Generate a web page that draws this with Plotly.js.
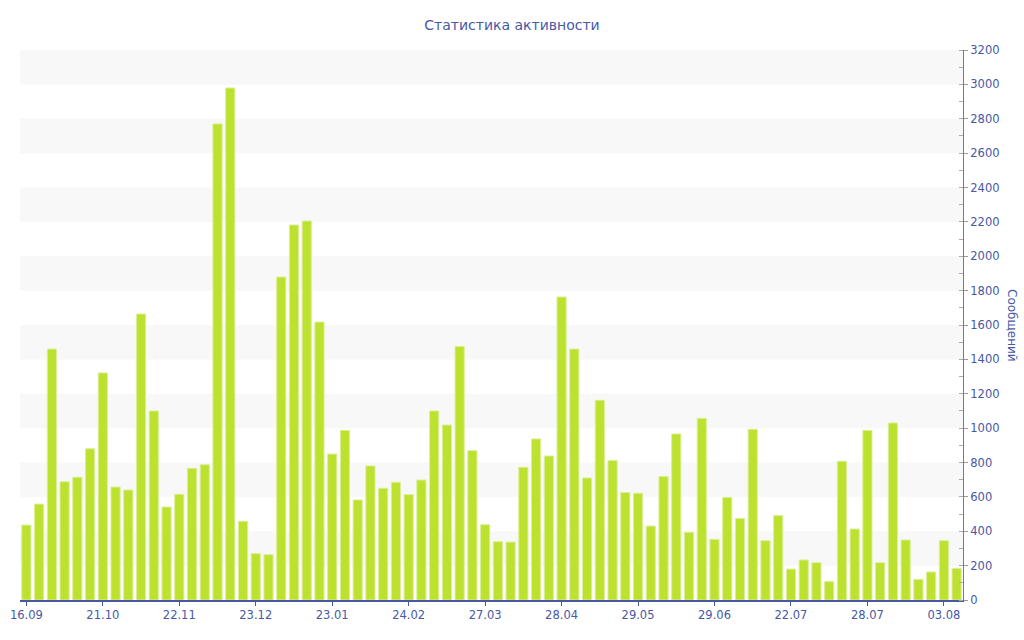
<!DOCTYPE html>
<html>
<head>
<meta charset="utf-8">
<script src="https://cdn.plot.ly/plotly-3.0.1.min.js"></script>
<style>html,body{margin:0;padding:0;background:#fff;}#chart{width:1024px;height:640px;}</style>
</head>
<body>
<div id="chart"></div>
<script>
// Weekly message counts (74 bars)
const messages = [
  436, 558, 1460, 688, 714, 880, 1321, 657, 640, 1664,
  1100, 541, 615, 766, 787, 2770, 2979, 458, 270, 264,
  1879, 2182, 2205, 1617, 849, 987, 582, 780, 650, 685,
  613, 698, 1100, 1018, 1475, 869, 438, 339, 337, 772,
  937, 838, 1763, 1460, 710, 1162, 811, 625, 621, 430,
  718, 966, 394, 1057, 353, 597, 475, 993, 345, 491,
  180, 233, 217, 107, 807, 413, 987, 217, 1030, 349,
  120, 163, 345, 184
];
const tickLabels = ["16.09","21.10","22.11","23.12","23.01","24.02","27.03","28.04","29.05","29.06","22.07","28.07","03.08"];
const tickEvery = 6;
const yMax = 3200;
const bandStep = 200;

const xIdx = messages.map((_, i) => i);
const tickVals = tickLabels.map((_, i) => i * tickEvery);

const blue = '#4758a6';
const font = 'DejaVu Sans, Verdana, sans-serif';

const shapes = [];
for (let y0 = bandStep; y0 < yMax; y0 += 2 * bandStep) {
  shapes.push({type:'rect', xref:'paper', x0:0, x1:1, yref:'y', y0:y0, y1:y0 + bandStep,
    fillcolor:'#f8f8f8', line:{width:0}, layer:'below'});
}

const trace = {
  type:'bar', x:xIdx, y:messages,
  marker:{color:'#bde12f', line:{color:'#dbef96', width:1}},
  hoverinfo:'y'
};

const layout = {
  width:1024, height:640,
  margin:{l:20, r:61, t:50, b:40},
  paper_bgcolor:'#fff', plot_bgcolor:'rgba(0,0,0,0)',
  font:{family:font, size:11.5, color:blue},
  title:{text:'Статистика активности', font:{family:font, size:14, color:blue},
    x:0.5, xanchor:'center', yref:'container', y:1 - 25/640, yanchor:'middle'},
  bargap:0.28,
  showlegend:false,
  shapes:shapes,
  xaxis:{
    range:[-0.5, messages.length - 0.5],
    tickmode:'array', tickvals:tickVals, ticktext:tickLabels,
    ticks:'outside', ticklen:4, tickcolor:blue,
    showline:true, linecolor:blue, linewidth:1.5,
    showgrid:false, zeroline:false, fixedrange:true,
    tickfont:{family:font, size:11.5, color:blue}
  },
  yaxis:{
    side:'right', range:[0, yMax], dtick:bandStep,
    ticks:'outside', ticklen:4, tickcolor:'#999',
    minor:{dtick:bandStep/2, ticks:'inside', ticklen:4, tickcolor:'#aaa'},
    showline:true, linecolor:'#6a78b6', linewidth:1,
    showgrid:false, zeroline:false, fixedrange:true,
    tickfont:{family:font, size:11.5, color:blue}
  },
  annotations:[{
    text:'Сообщений', xref:'paper', yref:'paper', x:1, xshift:49, y:0.5,
    xanchor:'center', yanchor:'middle', textangle:90, showarrow:false,
    font:{family:font, size:12, color:blue}
  }]
};

Plotly.newPlot('chart', [trace], layout, {displayModeBar:false, staticPlot:true});
</script>
</body>
</html>
